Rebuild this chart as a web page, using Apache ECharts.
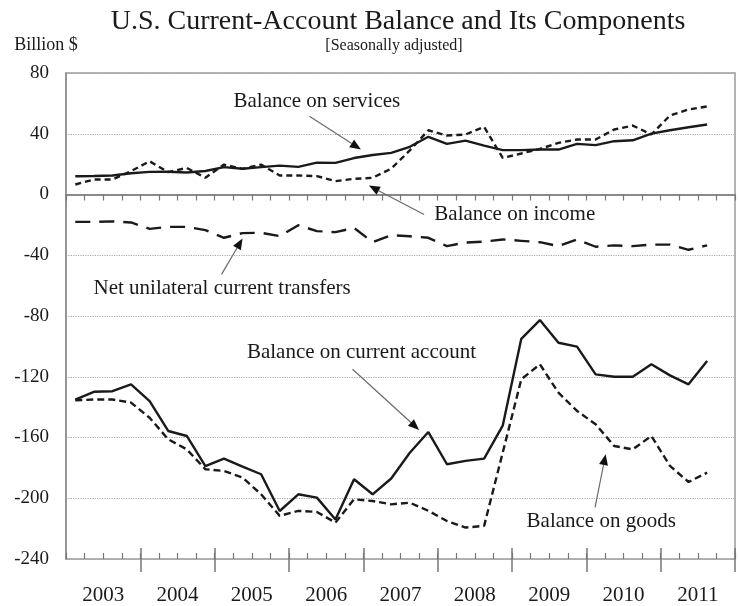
<!DOCTYPE html>
<html>
<head>
<meta charset="utf-8">
<script src="https://cdn.jsdelivr.net/npm/echarts@6/dist/echarts.min.js"></script>
<style>
  html, body { margin: 0; padding: 0; background: #fff; }
  #chart { width: 738px; height: 606px; }
</style>
</head>
<body>
<div id="chart"></div>
<script>
// quarterly, 2003Q1 - 2011Q4 (last quarter has no data yet)
const years = ['2003', '2004', '2005', '2006', '2007', '2008', '2009', '2010', '2011'];
const quarters = [];
years.forEach(function (y) {
    for (let q = 1; q <= 4; q++) quarters.push(y + 'Q' + q);
});

// billions of dollars
const services = [12, 12.2, 12.5, 14, 14.9, 15, 14.5, 15.5, 18, 17, 18, 19, 18.2, 21, 20.8, 24, 26, 27.4,
    31.4, 38, 33.3, 35.5, 32.2, 29.2, 29.2, 29.6, 29.6, 33.3, 32.5, 35.1, 35.7, 40.1, 42.3, 44.3, 46.1];
const income = [6.6, 9.9, 9.9, 15.4, 21.9, 14.7, 17.5, 11, 19.7, 16.9, 19.7, 12.5, 12.5, 12.1, 8.8, 10.3, 11, 17,
    29, 42.3, 38.8, 39.5, 44.5, 24.1, 27, 30, 34, 36.2, 36.2, 42.8, 45.4, 39.5, 52, 56, 58];
const transfers = [-18, -18, -17.7, -18.4, -22.6, -21.3, -21.3, -23.5, -28.5, -25.4, -25.2, -27.4, -20.2, -24.1, -24.8, -22, -31.4, -26.8,
    -27.5, -28.5, -34, -31.6, -31, -29.6, -30.5, -31.4, -34, -29.6, -34.4, -33.5, -34, -33, -33, -36.4, -33.5];
const currentAccount = [-135.1, -129.9, -129.5, -125, -136, -155.7, -159, -178.8, -173.9, -179.2, -184.2, -208.4, -197.4, -199.6, -214, -187.5, -197.4, -187,
    -170, -156.4, -177.6, -175.4, -173.9, -152.2, -95, -82.7, -97.6, -100.2, -118.4, -120, -120, -111.8, -119.1, -125, -109.6];
const goods = [-135.5, -135, -135, -137, -147, -161.2, -167.8, -180.9, -182, -186.4, -197.4, -211.6, -208.3, -209, -216, -200.7, -201.8, -204,
    -202.9, -208.3, -215, -219.3, -218.2, -170, -121.7, -111.8, -130.5, -142.5, -151.3, -165.6, -167.8, -159, -178.7, -189.3, -183.1];

// callouts: label position and arrow (tail -> head), in [quarter index, value]
const notes = [
    { text: 'Balance on services', at: [13.0, 61.4], from: [12.6, 51.5], to: [15.37, 29.6] },
    { text: 'Balance on income', at: [23.65, -13.2], from: [18.77, -13.2], to: [15.8, 5.9] },
    { text: 'Net unilateral current transfers', at: [7.9, -61.8], from: [7.87, -52.6], to: [9.0, -29] },
    { text: 'Balance on current account', at: [15.4, -104], from: [14.92, -115.1], to: [18.5, -155] },
    { text: 'Balance on goods', at: [28.3, -215], from: [27.97, -206], to: [28.54, -171] }
];

const serif = '"Liberation Serif", "Times New Roman", serif';
const ink = '#1a1a1a';

const chart = echarts.init(document.getElementById('chart'), null, { renderer: 'canvas' });

function line(name, data, dash) {
    return {
        name: name,
        type: 'line',
        data: data,
        symbol: 'none',
        xAxisIndex: 0,
        lineStyle: { color: ink, width: 2.4, type: dash },
        animation: false
    };
}

const option = {
    backgroundColor: '#fff',
    animation: false,
    grid: {
        left: 66, right: 3, top: 73, bottom: 46,
        show: true, borderColor: '#9a9a9a', borderWidth: 1.5
    },
    xAxis: [
        {   // quarter ticks, below the line
            type: 'category', data: quarters, boundaryGap: true, position: 'bottom',
            axisLine: { show: true, lineStyle: { color: '#8a8a8a', width: 2 } },
            axisTick: { show: true, interval: 0, length: 6, lineStyle: { color: '#777', width: 1.2 } },
            axisLabel: { show: false }, splitLine: { show: false }
        },
        {   // quarter ticks, above the line
            type: 'category', data: quarters, boundaryGap: true, position: 'bottom',
            axisLine: { show: false },
            axisTick: { show: true, inside: true, interval: 0, length: 6, lineStyle: { color: '#777', width: 1.2 } },
            axisLabel: { show: false }, splitLine: { show: false }
        },
        {   // year ticks + labels
            type: 'category', data: years, boundaryGap: true, position: 'bottom',
            axisLine: { show: false },
            axisTick: {
                show: true, length: 13, lineStyle: { color: '#777', width: 1.5 },
                interval: function (i) { return i > 0; }
            },
            axisLabel: { show: true, interval: 0, margin: 26, fontFamily: serif, fontSize: 21, color: ink },
            splitLine: { show: false }
        },
        {
            type: 'category', data: years, boundaryGap: true, position: 'bottom',
            axisLine: { show: false },
            axisTick: {
                show: true, inside: true, length: 11, lineStyle: { color: '#777', width: 1.5 },
                interval: function (i) { return i > 0; }
            },
            axisLabel: { show: false }, splitLine: { show: false }
        }
    ],
    yAxis: {
        type: 'value', min: -240, max: 80, interval: 40,
        axisLine: { show: true, lineStyle: { color: '#8a8a8a', width: 1.5 } },
        axisTick: { show: false },
        axisLabel: { margin: 17, fontFamily: serif, fontSize: 19, color: ink },
        splitLine: { show: true, lineStyle: { color: '#a8a8a8', width: 1.2, type: 'dotted' } }
    },
    series: [
        line('Balance on services', services, 'solid'),
        line('Balance on income', income, [6, 4]),
        line('Net unilateral current transfers', transfers, [15, 9]),
        line('Balance on current account', currentAccount, 'solid'),
        line('Balance on goods', goods, [7, 4])
    ]
};

chart.setOption(option);

// place titles and callouts
function toPx(p) {
    const x0 = chart.convertToPixel({ xAxisIndex: 0 }, quarters[0]);
    const x1 = chart.convertToPixel({ xAxisIndex: 0 }, quarters[1]);
    const y = chart.convertToPixel({ yAxisIndex: 0 }, p[1]);
    return [x0 + p[0] * (x1 - x0), y];
}

function textEl(text, x, y, size) {
    return {
        type: 'text', silent: true, z: 100,
        style: {
            text: text, x: x, y: y, font: size + 'px ' + serif, fill: ink,
            align: 'center', verticalAlign: 'middle', textAlign: 'center', textVerticalAlign: 'middle'
        }
    };
}

const elements = [
    textEl('U.S. Current-Account Balance and Its Components', 398, 22, 28),
    textEl('[Seasonally adjusted]', 394, 46, 16),
    textEl('Billion $', 46, 45, 18)
];

notes.forEach(function (n) {
    const c = toPx(n.at);
    const a = toPx(n.from);
    const b = toPx(n.to);
    elements.push(textEl(n.text, c[0], c[1], 21));
    const dx = b[0] - a[0], dy = b[1] - a[1];
    const len = Math.sqrt(dx * dx + dy * dy);
    const ux = dx / len, uy = dy / len;
    const hl = 11, hw = 4.5;
    const bx = b[0] - ux * hl, by = b[1] - uy * hl;
    elements.push({
        type: 'line', silent: true, z: 90,
        shape: { x1: a[0], y1: a[1], x2: bx, y2: by },
        style: { stroke: '#6a6a6a', lineWidth: 1.2 }
    });
    elements.push({
        type: 'polygon', silent: true, z: 91,
        shape: { points: [[b[0], b[1]], [bx - uy * hw, by + ux * hw], [bx + uy * hw, by - ux * hw]] },
        style: { fill: '#111' }
    });
});

chart.setOption({ graphic: elements });
</script>
</body>
</html>
